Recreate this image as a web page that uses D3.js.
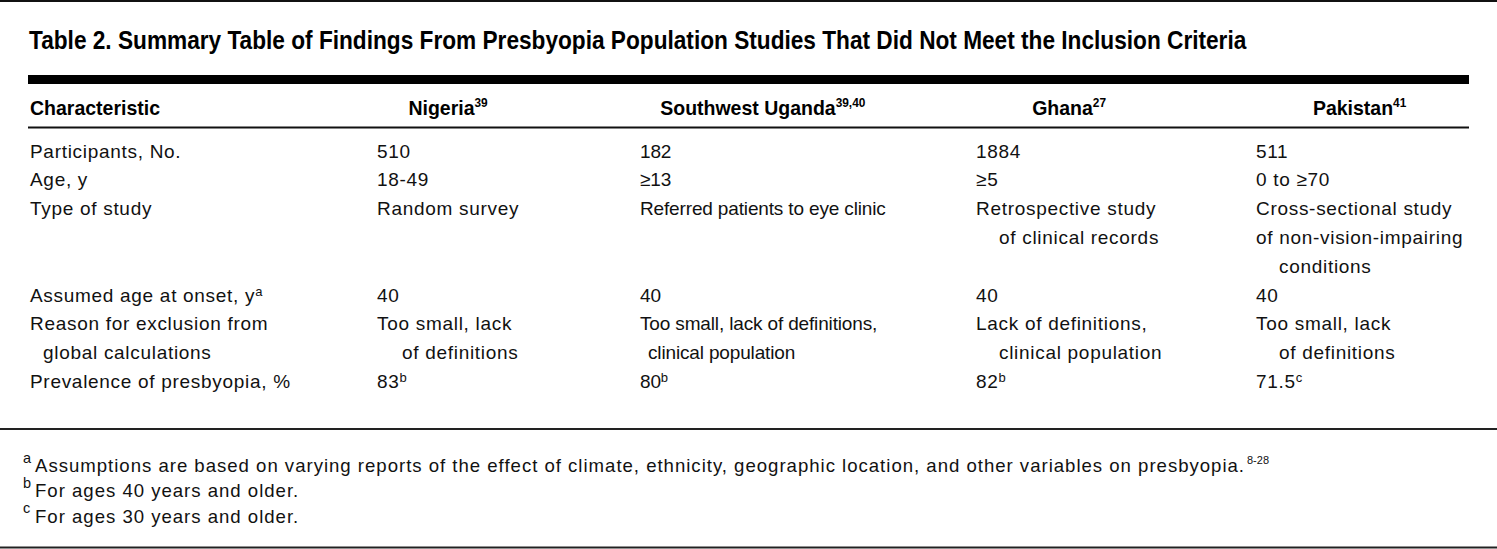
<!DOCTYPE html>
<html><head><meta charset="utf-8">
<script src="https://cdn.jsdelivr.net/npm/d3@7"></script>
<style>
body{margin:0;background:#fff;}
svg{display:block;}
text{font-family:"Liberation Sans",Arial,Helvetica,sans-serif;}
.light{font-size:19px;fill:#111;}
.foot{font-size:18.6px;fill:#111;}
.head{font-weight:bold;font-size:20.5px;fill:#000;}
.title{font-weight:bold;font-size:25.5px;fill:#000;}
</style></head><body>
<svg id="chart" width="1497" height="549"></svg>
<script>
// ---------- data ----------
const tableTitle = "Table 2. Summary Table of Findings From Presbyopia Population Studies That Did Not Meet the Inclusion Criteria";
const stubHeader = "Characteristic";
const studies = ["Nigeria", "Southwest Uganda", "Ghana", "Pakistan"];
const studyRefs = ["39", "39,40", "27", "41"];

const characteristics = [
  ["Participants, No."],
  ["Age, y"],
  ["Type of study"],
  ["Assumed age at onset, y"],
  ["Reason for exclusion from", "global calculations"],
  ["Prevalence of presbyopia, %"]
];
const characteristicNotes = ["", "", "", "a", "", ""];

const participants = [["510"], ["182"], ["1884"], ["511"]];
const ageRanges = [["18-49"], ["\u226513"], ["\u22655"], ["0 to \u226570"]];
const studyTypes = [
  ["Random survey"],
  ["Referred patients to eye clinic"],
  ["Retrospective study", "of clinical records"],
  ["Cross-sectional study", "of non-vision-impairing", "conditions"]
];
const studyTypeIndents = [[0], [0], [0, 1], [0, 0, 1]];
const onsetAges = [["40"], ["40"], ["40"], ["40"]];
const exclusionReasons = [
  ["Too small, lack", "of definitions"],
  ["Too small, lack of definitions,", "clinical population"],
  ["Lack of definitions,", "clinical population"],
  ["Too small, lack", "of definitions"]
];
const prevalence = [["83"], ["80"], ["82"], ["71.5"]];
const prevalenceNotes = ["b", "b", "b", "c"];

const footnoteMarks = ["a", "b", "c"];
const footnoteTexts = [
  "Assumptions are based on varying reports of the effect of climate, ethnicity, geographic location, and other variables on presbyopia.",
  "For ages 40 years and older.",
  "For ages 30 years and older."
];
const footnoteRefs = ["8-28", "", ""];

// ---------- layout ----------
const rows = [
  {cells: participants},
  {cells: ageRanges},
  {cells: studyTypes, indents: studyTypeIndents},
  {cells: onsetAges},
  {cells: exclusionReasons},
  {cells: prevalence, notes: prevalenceNotes}
];
const stubTracking = 0.7;
const colTracking = [0.7, -0.15, 0.7, 0.7];   // letter-spacing per study column (px)
const colHang = [25, 8, 23, 23];              // hanging indent of run-over lines (px)
const stubHang = 13;

const W = 1497, H = 549;
const svg = d3.select("#chart");

function measure(cls, str, ls) {
  const t = svg.append("text").attr("class", cls).style("letter-spacing", (ls || 0) + "px").text(str);
  const w = t.node().getComputedTextLength();
  t.remove();
  return w;
}
// horizontal fits to the reference widths
const titleSx = 1218 / measure("title", tableTitle);
const headSx = 130 / measure("head", stubHeader);
const footLs = (1210 - measure("foot", footnoteTexts[0], 0)) / footnoteTexts[0].length;

const colKeys = ["stub"].concat(studies);
const x = d3.scaleOrdinal().domain(colKeys).range([30, 377, 640, 976, 1256]);
let lineCount = 0;
rows.forEach((r, i) => {
  r.start = lineCount;
  r.n = Math.max(characteristics[i].length, d3.max(r.cells, c => c.length));
  lineCount += r.n;
});
const y = d3.scaleLinear().domain([0, lineCount - 1]).range([157.5, 388]);

// rules
svg.append("rect").attr("x", 0).attr("y", 0).attr("width", W).attr("height", 2).attr("fill", "#111");
svg.append("rect").attr("x", 28).attr("y", 75).attr("width", 1441).attr("height", 9).attr("fill", "#000");
svg.append("rect").attr("x", 28).attr("y", 126.5).attr("width", 1441).attr("height", 2).attr("fill", "#111");
svg.append("rect").attr("x", 0).attr("y", 428).attr("width", W).attr("height", 2).attr("fill", "#222");
svg.append("rect").attr("x", 0).attr("y", 546.5).attr("width", W).attr("height", 2).attr("fill", "#222");

// title
svg.append("text").attr("class", "title")
  .attr("transform", `translate(29,48.5) scale(${titleSx},1)`).text(tableTitle);

// stub column
rows.forEach((r, i) => {
  characteristics[i].forEach((line, k) => {
    const t = svg.append("text").attr("class", "light")
      .style("letter-spacing", stubTracking + "px")
      .attr("x", x("stub") + (k > 0 ? stubHang : 0))
      .attr("y", y(r.start + k)).text(line);
    if (k === characteristics[i].length - 1 && characteristicNotes[i]) {
      t.append("tspan").style("font-size", "13px").style("letter-spacing", "0px").attr("dy", -6).text(characteristicNotes[i]);
    }
  });
});

// data cells
const colWidths = studies.map(() => 0);
rows.forEach((r) => {
  r.cells.forEach((lines, j) => {
    lines.forEach((line, k) => {
      const ind = r.indents ? r.indents[j][k] : (k > 0 ? 1 : 0);
      const t = svg.append("text").attr("class", "light")
        .style("letter-spacing", colTracking[j] + "px")
        .attr("x", x(studies[j]) + ind * colHang[j])
        .attr("y", y(r.start + k)).text(line);
      if (r.notes && k === lines.length - 1) {
        t.append("tspan").style("font-size", "13px").style("letter-spacing", "0px").attr("dy", -6).text(r.notes[j]);
      }
      const w = t.node().getComputedTextLength() + ind * colHang[j];
      colWidths[j] = Math.max(colWidths[j], w);
    });
  });
});

// header
svg.append("text").attr("class", "head")
  .attr("transform", `translate(${x("stub")},115) scale(${headSx},1)`).text(stubHeader);
studies.forEach((s, j) => {
  const t = svg.append("text").attr("class", "head");
  t.append("tspan").text(s);
  t.append("tspan").style("font-size", "12.5px").attr("dy", -8).text(studyRefs[j]);
  const w = t.node().getComputedTextLength() * headSx;
  const cx = x(studies[j]) + colWidths[j] / 2 - w / 2;
  t.attr("transform", `translate(${cx},115) scale(${headSx},1)`);
});

// footnotes
const fy = d3.scaleLinear().domain([0, footnoteTexts.length - 1]).range([472, 522.5]);
footnoteTexts.forEach((txt, i) => {
  svg.append("text").attr("class", "foot").style("font-size", "14.5px")
    .attr("x", 23).attr("y", fy(i) - 9.5).text(footnoteMarks[i]);
  const t = svg.append("text").attr("class", "foot").style("letter-spacing", footLs + "px")
    .attr("x", 35).attr("y", fy(i)).text(txt);
  if (footnoteRefs[i]) {
    t.append("tspan").style("font-size", "11px").style("letter-spacing", "0px").attr("dx", 2).attr("dy", -8).text(footnoteRefs[i]);
  }
});
</script>
</body></html>
